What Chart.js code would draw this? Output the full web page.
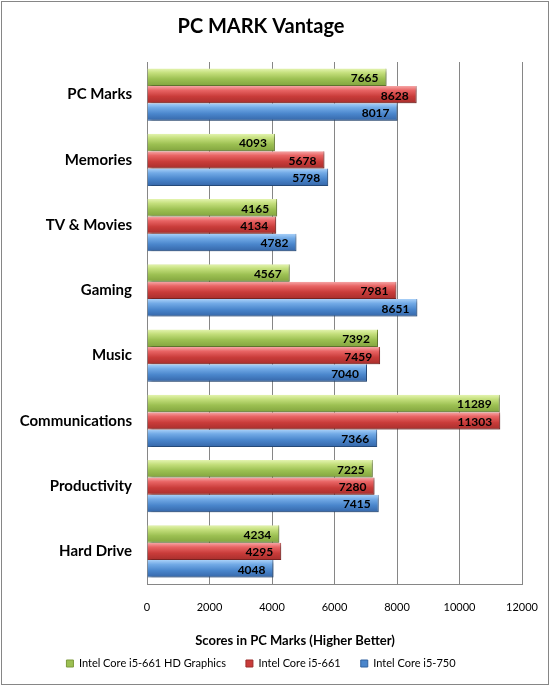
<!DOCTYPE html>
<html>
<head>
<meta charset="utf-8">
<script src="https://cdn.jsdelivr.net/npm/chart.js@4.4.0/dist/chart.umd.min.js"></script>
<style>
  html, body { margin: 0; padding: 0; background: #fff; }
  #wrap { width: 550px; height: 686px; position: relative; }
</style>
</head>
<body>
<div id="wrap"><canvas id="myChart" width="550" height="686"></canvas></div>
<script>
var categories = ['PC Marks', 'Memories', 'TV & Movies', 'Gaming', 'Music', 'Communications', 'Productivity', 'Hard Drive'];
var seriesNames = ['Intel Core i5-661 HD Graphics', 'Intel Core i5-661', 'Intel Core i5-750'];
var hdGraphics = [7665, 4093, 4165, 4567, 7392, 11289, 7225, 4234];
var i5661 = [8628, 5678, 4134, 7981, 7459, 11303, 7280, 4295];
var i5750 = [8017, 5798, 4782, 8651, 7040, 7366, 7415, 4048];
var xTicks = [0, 2000, 4000, 6000, 8000, 10000, 12000];
var axisTitle = 'Scores in PC Marks (Higher Better)';

// light top -> dark bottom, like the old office bars
var palettes = [
  ['#e4f4b0', '#c4df7c', '#9cc052', '#82a43e'],
  ['#f6a8a8', '#e86464', '#c93c3a', '#a72e2c'],
  ['#a8d0f8', '#72aae6', '#4a86cc', '#3566a8']
];
var borders = ['#7d9a3c', '#9c2e2c', '#30609e'];

function barGradient(context) {
  var chart = context.chart;
  var pal = palettes[context.datasetIndex];
  var yScale = chart.scales.y;
  if (!yScale || context.dataIndex === undefined) return pal[2];
  var band = (yScale.bottom - yScale.top) / categories.length;
  var group = band * 0.8;
  var h = group / 3;
  var top = yScale.getPixelForValue(context.dataIndex) - group / 2 + context.datasetIndex * h;
  var g = chart.ctx.createLinearGradient(0, top, 0, top + h);
  g.addColorStop(0, pal[0]);
  g.addColorStop(0.25, pal[1]);
  g.addColorStop(0.6, pal[2]);
  g.addColorStop(1, pal[3]);
  return g;
}

const frame = {
  id: 'frame',
  afterDraw(chart) {
    const ctx = chart.ctx;
    ctx.save();
    ctx.strokeStyle = '#868686';
    ctx.lineWidth = 1;
    ctx.strokeRect(1.5, 1.5, chart.width - 3, chart.height - 3);
    // axis title sits left of the plot centre in the original
    ctx.font = 'bold 13px Lato, sans-serif';
    ctx.fillStyle = '#000';
    ctx.textAlign = 'center';
    ctx.textBaseline = 'middle';
    ctx.fillText(axisTitle, 295, 641);
    ctx.restore();
  }
};

const barShadow = {
  id: 'barShadow',
  beforeDatasetsDraw(chart) {
    const ctx = chart.ctx;
    ctx.save();
    ctx.shadowColor = 'rgba(0,0,0,0.35)';
    ctx.shadowBlur = 3;
    ctx.shadowOffsetX = 2;
    ctx.shadowOffsetY = 2;
  },
  afterDatasetsDraw(chart) {
    chart.ctx.restore();
  }
};

const valueLabels = {
  id: 'valueLabels',
  afterDatasetsDraw(chart) {
    const ctx = chart.ctx;
    ctx.save();
    ctx.font = 'bold 12px Lato, sans-serif';
    ctx.fillStyle = '#000';
    ctx.textAlign = 'right';
    ctx.textBaseline = 'middle';
    chart.data.datasets.forEach((ds, di) => {
      chart.getDatasetMeta(di).data.forEach((bar, i) => {
        ctx.fillText(ds.data[i], bar.x - 8, bar.y + 1);
      });
    });
    ctx.restore();
  }
};

var datasets = [hdGraphics, i5661, i5750].map(function (vals, i) {
  return {
    label: seriesNames[i],
    data: vals,
    backgroundColor: barGradient,
    borderColor: borders[i],
    borderWidth: { top: 0, right: 1, bottom: 1, left: 0 },
    borderSkipped: 'start',
    categoryPercentage: 0.8,
    barPercentage: 1.0
  };
});

var myChart = new Chart(document.getElementById('myChart'), {
  type: 'bar',
  data: { labels: categories, datasets: datasets },
  options: {
    indexAxis: 'y',
    responsive: false,
    animation: false,
    layout: { padding: { left: 0, right: 28, top: 0, bottom: 7 } },
    scales: {
      x: {
        min: 0,
        max: 12000,
        afterBuildTicks: function (axis) {
          axis.ticks = xTicks.map(function (v) { return { value: v }; });
        },
        afterFit: function (axis) {
          axis.height = 54;
          axis.paddingLeft = 0;
          axis.paddingRight = 0;
        },
        grid: { color: '#868686', drawTicks: false },
        border: { color: '#868686' },
        ticks: {
          color: '#000',
          font: { family: 'Lato', size: 11 },
          padding: 17,
          callback: function (v) { return String(v); }
        }
      },
      y: {
        grid: { display: false, drawTicks: false },
        border: { color: '#868686' },
        afterFit: function (axis) { axis.width = 147; },
        ticks: {
          color: '#000',
          font: { family: 'Lato', size: 15, weight: 'bold' },
          padding: 15
        }
      }
    },
    plugins: {
      title: {
        display: true,
        text: 'PC MARK Vantage',
        color: '#000',
        font: { family: 'Lato', size: 20, weight: 'bold' },
        padding: { top: 15, bottom: 23 }
      },
      legend: {
        position: 'bottom',
        labels: {
          color: '#000',
          font: { family: 'Lato', size: 11 },
          boxWidth: 7,
          boxHeight: 7,
          padding: 20,
          generateLabels: function (chart) {
            return chart.data.datasets.map(function (ds, i) {
              return {
                text: ds.label,
                fillStyle: palettes[i][2],
                strokeStyle: borders[i],
                lineWidth: 1,
                datasetIndex: i
              };
            });
          }
        }
      },
      tooltip: { enabled: false }
    }
  },
  plugins: [barShadow, valueLabels, frame]
});
</script>
</body>
</html>
